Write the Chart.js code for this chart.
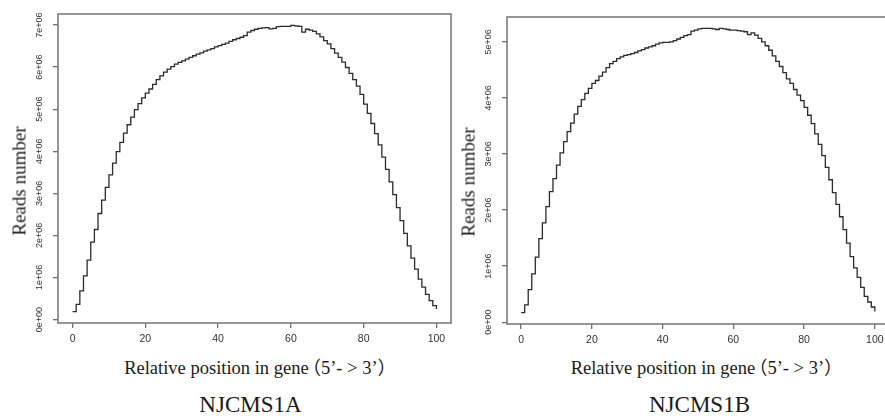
<!DOCTYPE html>
<html>
<head>
<meta charset="utf-8">
<script src="https://cdn.jsdelivr.net/npm/chart.js@4.4.1/dist/chart.umd.min.js"></script>
<style>
  html, body { margin: 0; padding: 0; background: #fff; width: 885px; height: 416px; overflow: hidden; }
  canvas { position: absolute; top: 0; }
  .txt { position: absolute; font-family: "Liberation Serif", "Times New Roman", serif; color: #1a1a1a; white-space: nowrap; line-height: 1; }
  .ylab { font-size: 19px; transform: translate(-50%, -50%) rotate(-90deg); }
  .xlab { font-size: 18.5px; transform: translateX(-50%); }
  .cap { font-size: 23px; transform: translateX(-50%); }
  .fw { font-family: "Noto Sans CJK SC"; font-feature-settings: "halt"; }
  .fw.open { margin-left: 3px; }
</style>
</head>
<body>
<canvas id="chartA" width="455" height="350" style="left:0"></canvas>
<canvas id="chartB" width="440" height="350" style="left:455px"></canvas>

<div class="txt ylab" style="left:18.6px; top:181px">Reads number</div>
<div class="txt ylab" style="left:468px; top:181.5px">Reads number</div>
<div class="txt xlab" style="left:255.5px; top:357px">Relative position in gene<span class="fw open">（</span>5’- &gt; 3’<span class="fw">）</span></div>
<div class="txt xlab" style="left:702px; top:357px">Relative position in gene<span class="fw open">（</span>5’- &gt; 3’<span class="fw">）</span></div>
<div class="txt cap" style="left:250.5px; top:392.7px">NJCMS1A</div>
<div class="txt cap" style="left:699.5px; top:392.7px">NJCMS1B</div>

<script>
// relative position in gene (0..100)
const positions = Array.from({ length: 101 }, (_, i) => i);
const xTicks = [0, 20, 40, 60, 80, 100];

// reads number, in millions
const readsA = [
  0.19, 0.36, 0.68, 1.04, 1.41, 1.84, 2.14, 2.52, 2.84, 3.14,
  3.44, 3.72, 3.99, 4.21, 4.43, 4.63, 4.81, 4.99, 5.13, 5.27,
  5.38, 5.48, 5.59, 5.70, 5.79, 5.88, 5.95, 6.01, 6.07, 6.11,
  6.15, 6.19, 6.23, 6.27, 6.31, 6.34, 6.38, 6.41, 6.44, 6.48,
  6.51, 6.54, 6.57, 6.61, 6.65, 6.68, 6.71, 6.75, 6.83, 6.87,
  6.90, 6.92, 6.93, 6.94, 6.91, 6.92, 6.96, 6.97, 6.97, 6.97,
  6.99, 6.98, 6.97, 6.83, 6.90, 6.88, 6.85, 6.79, 6.72, 6.63,
  6.55, 6.44, 6.33, 6.23, 6.12, 5.99, 5.85, 5.70, 5.55, 5.35,
  5.12, 4.90, 4.66, 4.42, 4.15, 3.86, 3.57, 3.27, 2.97, 2.66,
  2.35, 2.05, 1.75, 1.46, 1.20, 0.96, 0.77, 0.60, 0.45, 0.33,
  0.25
];
const readsB = [
  0.17, 0.31, 0.58, 0.86, 1.16, 1.49, 1.77, 2.06, 2.33, 2.56,
  2.80, 3.02, 3.22, 3.40, 3.55, 3.71, 3.85, 3.97, 4.08, 4.17,
  4.26, 4.31, 4.39, 4.46, 4.54, 4.61, 4.65, 4.70, 4.73, 4.76,
  4.77, 4.79, 4.81, 4.84, 4.86, 4.89, 4.91, 4.93, 4.96, 4.98,
  4.99, 4.99, 5.00, 5.02, 5.05, 5.08, 5.11, 5.13, 5.19, 5.21,
  5.23, 5.24, 5.24, 5.24, 5.23, 5.22, 5.24, 5.23, 5.22, 5.21,
  5.21, 5.20, 5.19, 5.18, 5.13, 5.16, 5.12, 5.06, 5.00, 4.93,
  4.85, 4.75, 4.65, 4.56, 4.45, 4.34, 4.26, 4.15, 4.05, 3.95,
  3.83, 3.69, 3.54, 3.36, 3.17, 2.97, 2.76, 2.54, 2.31, 2.10,
  1.88, 1.65, 1.41, 1.17, 0.97, 0.80, 0.62, 0.46, 0.36, 0.27,
  0.19
];

const yTicksA = [0, 1, 2, 3, 4, 5, 6, 7];
const yLabelsA = ['0e+00', '1e+06', '2e+06', '3e+06', '4e+06', '5e+06', '6e+06', '7e+06'];
const yTicksB = [0, 1, 2, 3, 4, 5];
const yLabelsB = ['0e+00', '1e+06', '2e+06', '3e+06', '4e+06', '5e+06'];

// R-style axis range: data range widened by 4% on both sides
function rLimits(vals) {
  const lo = Math.min(...vals), hi = Math.max(...vals);
  const pad = (hi - lo) * 0.04;
  return [lo - pad, hi + pad];
}

// plot frame like R's box()
const boxPlugin = {
  id: 'box',
  beforeDatasetsDraw(chart) {
    const { ctx, chartArea: a } = chart;
    ctx.save();
    ctx.strokeStyle = '#7c7c7c';
    ctx.lineWidth = 1.6;
    ctx.strokeRect(a.left, a.top, a.right - a.left, a.bottom - a.top);
    ctx.restore();
  }
};

function makeChart(id, values, yTicks, yLabels, frame) {
  const [xMin, xMax] = rLimits(positions);
  const [yMin, yMax] = rLimits(values);
  const grid = { drawOnChartArea: false, drawTicks: true, tickLength: 5, color: '#6e6e6e', lineWidth: 1.3 };
  return new Chart(document.getElementById(id), {
    type: 'line',
    data: {
      datasets: [{
        data: positions.map((x, i) => ({ x, y: values[i] })),
        borderColor: '#2b2b2b',
        borderWidth: 1.3,
        pointRadius: 0,
        stepped: true,
        fill: false
      }]
    },
    options: {
      responsive: false,
      animation: false,
      events: [],
      layout: { padding: { top: frame.top, right: frame.right, left: 0, bottom: 0 } },
      plugins: { legend: { display: false }, tooltip: { enabled: false } },
      scales: {
        x: {
          type: 'linear', min: xMin, max: xMax,
          afterBuildTicks: s => { s.ticks = xTicks.map(v => ({ value: v })); },
          afterFit: s => { s.height = frame.xHeight; },
          grid, border: { display: false },
          ticks: { autoSkip: false, maxRotation: 0, padding: 5, color: '#333',
                   font: { family: 'Liberation Sans', size: 10.5 }, callback: v => String(v) }
        },
        y: {
          min: yMin, max: yMax,
          afterBuildTicks: s => { s.ticks = yTicks.map(v => ({ value: v })); },
          afterFit: s => { s.width = frame.yWidth; },
          grid, border: { display: false },
          ticks: { autoSkip: false, minRotation: 90, maxRotation: 90, crossAlign: 'center', padding: 1,
                   color: '#333', font: { family: 'Liberation Sans', size: 9 },
                   callback: (v, i) => yLabels[i] }
        }
      }
    },
    plugins: [boxPlugin]
  });
}

makeChart('chartA', readsA, yTicksA, yLabelsA, { top: 14, right: 4, yWidth: 58, xHeight: 27 });
makeChart('chartB', readsB, yTicksB, yLabelsB, { top: 17, right: 6, yWidth: 52, xHeight: 26 });
</script>
</body>
</html>
